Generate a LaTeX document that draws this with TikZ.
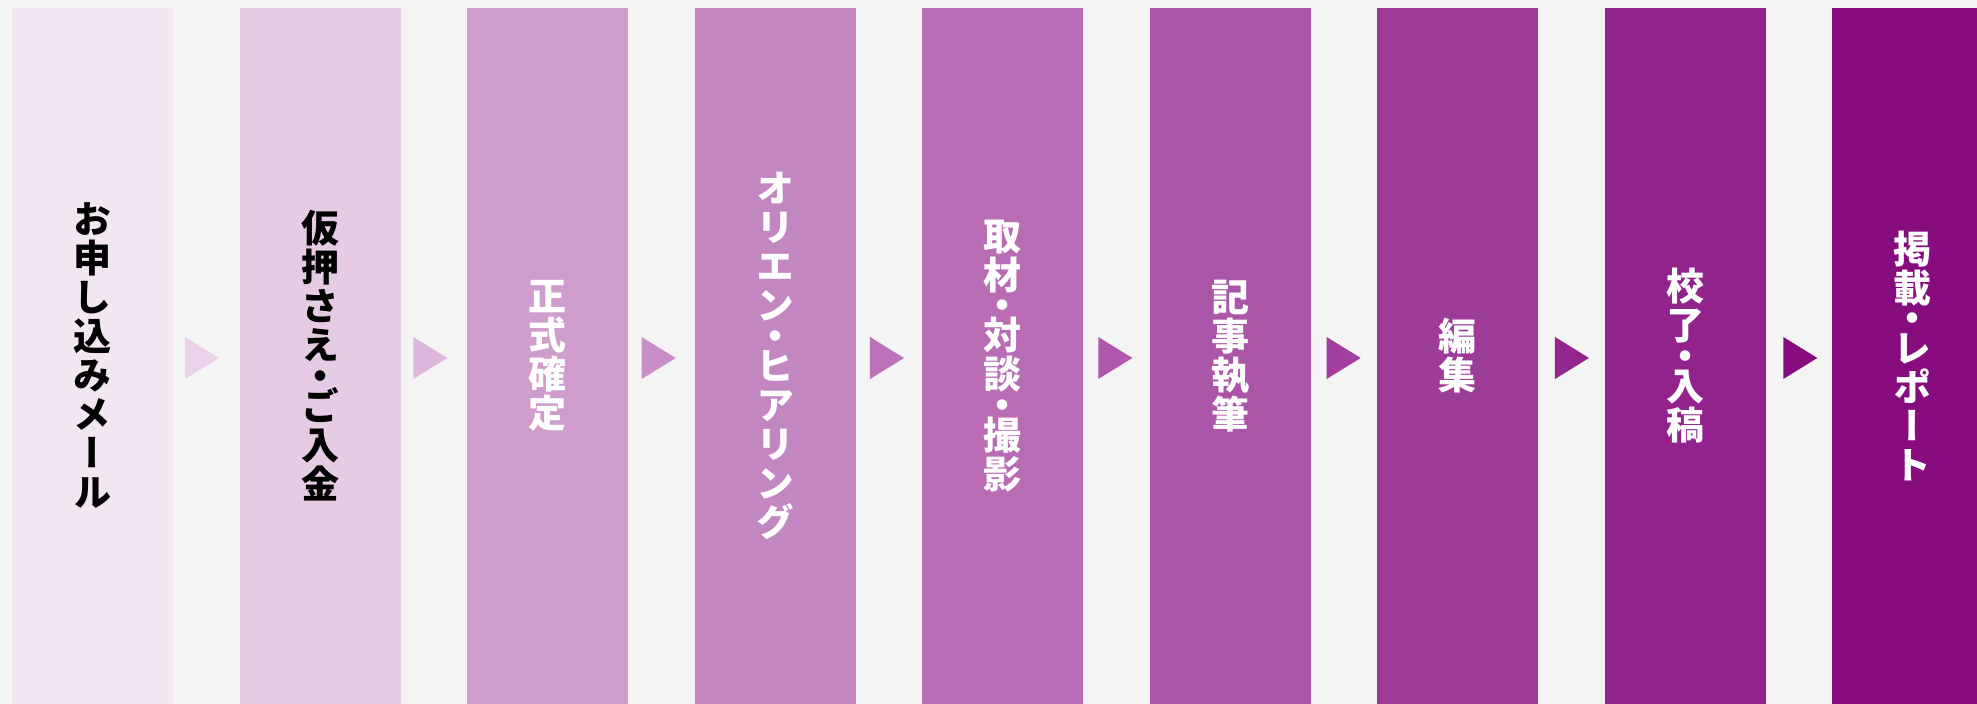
\documentclass[tikz,border=0pt]{standalone}
\usepackage{fontspec}
\newfontfamily\jp{Noto Sans CJK JP}[RawFeature=+vert]
\definecolor{bg}{HTML}{F4F4F4}
\definecolor{cA}{HTML}{F2E6F3}
\definecolor{cB}{HTML}{E6CBE5}
\definecolor{cC}{HTML}{CF9DCC}
\definecolor{cD}{HTML}{C286C1}
\definecolor{cE}{HTML}{B76CB3}
\definecolor{cF}{HTML}{AA55A7}
\definecolor{cG}{HTML}{9D3B99}
\definecolor{cH}{HTML}{92238C}
\definecolor{cI}{HTML}{870C7E}
\definecolor{aA}{HTML}{EBD2EB}
\definecolor{aB}{HTML}{DDB6DC}
\definecolor{aC}{HTML}{C98DC7}
\definecolor{aD}{HTML}{BC72B8}
\definecolor{aE}{HTML}{AF57AC}
\definecolor{aF}{HTML}{A13E9E}
\definecolor{aG}{HTML}{93268E}
\definecolor{aH}{HTML}{870C7E}
\tikzset{
  col/.style={rectangle, inner sep=0pt, minimum width=80.5pt, minimum height=348pt,
    align=center, font=\jp\bfseries\fontsize{19pt}{19.5pt}\selectfont},
  darktext/.style={text=black},
  lighttext/.style={text=white}
}
\newcommand{\dotsep}{\\[-4.3pt]・\\[-4.3pt]}
\begin{document}
\begin{tikzpicture}[x=0.5pt,y=-0.5pt]
\clip (0,0) rectangle (1977,704);
\fill[bg] (0,0) rectangle (1977,704);
\node[col, fill=cA, darktext] (c1) at (92.5,356) {お\\申\\し\\込\\み\\メ\\ー\\ル};
\node[col, fill=cB, darktext] (c2) at (320,356) {仮\\押\\さ\\え\dotsep ご\\入\\金};
\node[col, fill=cC, lighttext] (c3) at (547.5,356) {正\\式\\確\\定};
\node[col, fill=cD, lighttext] (c4) at (775,356) {オ\\リ\\エ\\ン\dotsep ヒ\\ア\\リ\\ン\\グ};
\node[col, fill=cE, lighttext] (c5) at (1002.5,356) {取\\材\dotsep 対\\談\dotsep 撮\\影};
\node[col, fill=cF, lighttext] (c6) at (1230,356) {記\\事\\執\\筆};
\node[col, fill=cG, lighttext] (c7) at (1457.5,356) {編\\集};
\node[col, fill=cH, lighttext] (c8) at (1685,356) {校\\了\dotsep 入\\稿};
\node[col, fill=cI, lighttext] (c9) at (1912.5,356) {掲\\載\dotsep レ\\ポ\\ー\\ト};
\foreach \i/\c in {1/aA,2/aB,3/aC,4/aD,5/aE,6/aF,7/aG,8/aH}{
  \fill[\c] ({185+228.33*(\i-1)},337) -- ++(34,21) -- ++(-34,21) -- cycle;
}
\end{tikzpicture}
\end{document}
